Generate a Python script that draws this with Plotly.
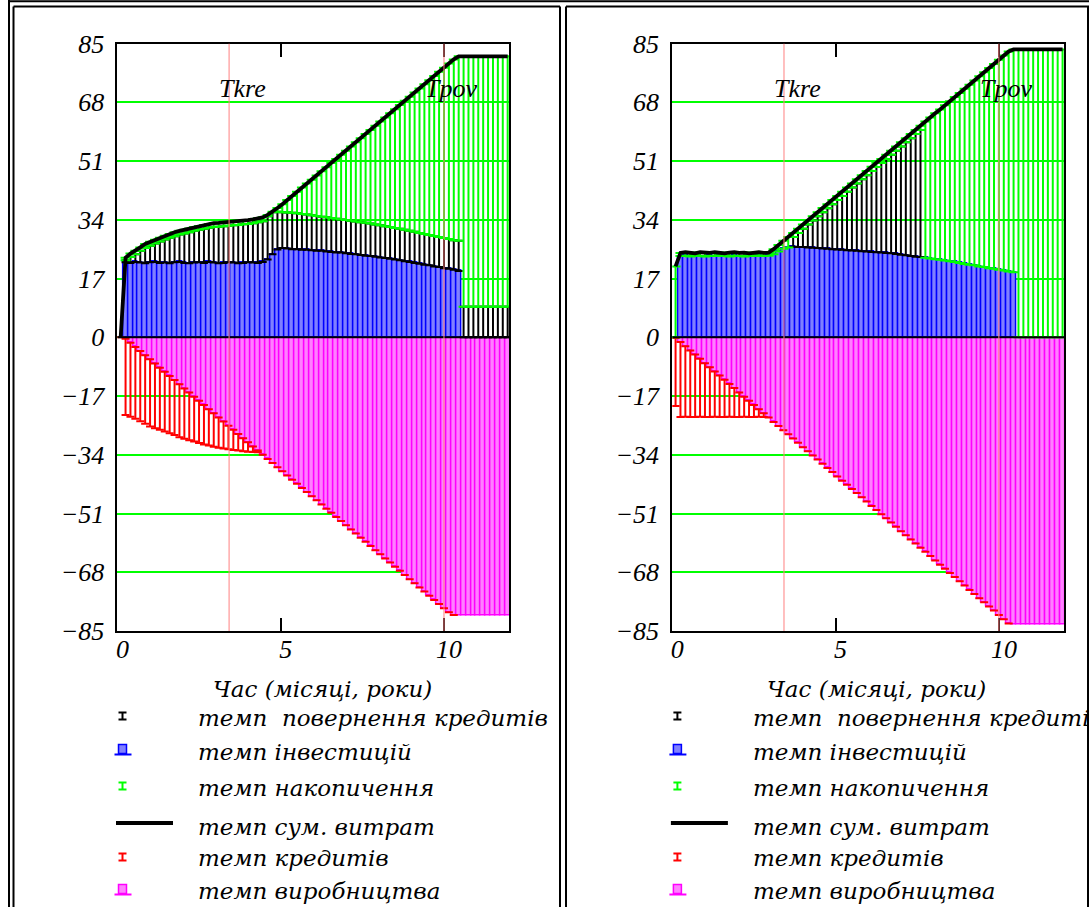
import plotly.graph_objects as go
from plotly.subplots import make_subplots

W, H = 1089, 907

# ---- time grid (years) ----
time = [0.10, 0.25, 0.40, 0.55, 0.70, 0.85, 1.00, 1.15, 1.30, 1.45,
        1.60, 1.75, 1.90, 2.05, 2.20, 2.35, 2.50, 2.65, 2.80, 2.95,
        3.10, 3.25, 3.40, 3.55, 3.70, 3.85, 4.00, 4.15, 4.30, 4.45,
        4.60, 4.75, 4.90, 5.05, 5.20, 5.35, 5.50, 5.65, 5.80, 5.95,
        6.10, 6.25, 6.40, 6.55, 6.70, 6.85, 7.00, 7.15, 7.30, 7.45,
        7.60, 7.75, 7.90, 8.05, 8.20, 8.35, 8.50, 8.65, 8.80, 8.95,
        9.10, 9.25, 9.40, 9.55, 9.70, 9.85, 10.00, 10.15, 10.30, 10.45,
        10.60, 10.75, 10.90, 11.05, 11.20, 11.35, 11.50, 11.65, 11.80, 11.95]

T_KRE = 3.42   # end of crediting
T_POV = 10.0   # end of repayment

y_ticks = [-85, -68, -51, -34, -17, 0, 17, 34, 51, 68, 85]
x_ticks = [0, 5, 10]

# ---- left variant ----
prod_left = [0.0, -0.4, -1.6, -2.8, -4.0, -5.2, -6.4, -7.6, -8.8, -10.0,
             -11.2, -12.4, -13.6, -14.8, -16.0, -17.2, -18.4, -19.6, -20.8, -22.0,
             -23.2, -24.4, -25.6, -26.8, -28.0, -29.2, -30.4, -31.6, -32.8, -34.0,
             -35.2, -36.4, -37.6, -38.8, -40.0, -41.2, -42.4, -43.6, -44.8, -46.0,
             -47.2, -48.4, -49.6, -50.8, -52.0, -53.2, -54.4, -55.6, -56.8, -58.0,
             -59.2, -60.4, -61.6, -62.8, -64.0, -65.2, -66.4, -67.6, -68.8, -70.0,
             -71.2, -72.4, -73.6, -74.8, -76.0, -77.2, -78.4, -79.6, -80.4, -80.4,
             -80.4, -80.4, -80.4, -80.4, -80.4, -80.4, -80.4, -80.4, -80.4, -80.4]
credit_floor_left = [0.0, -22.5, -23.0, -23.6, -24.3, -25.0, -25.8, -26.3, -26.8, -27.3,
                     -27.8, -28.3, -28.9, -29.4, -29.8, -30.2, -30.6, -31.0, -31.3, -31.7,
                     -32.0, -32.2, -32.4, -32.6, -32.8, -33.0, -33.1, -33.2, -33.3]
n_red_left = 69
invest_left = [0.0, 21.7, 21.5, 21.8, 21.6, 21.4, 21.7, 21.8, 21.5, 21.6,
               21.4, 21.7, 21.8, 21.5, 21.4, 21.6, 21.7, 21.5, 21.8, 21.6,
               21.4, 21.5, 21.7, 21.6, 21.4, 21.5, 21.7, 21.6, 21.5, 21.8,
               22.5, 24.0, 25.4, 25.8, 25.7, 25.5, 25.5, 25.3, 25.3, 25.2,
               25.0, 25.0, 24.8, 24.7, 24.5, 24.5, 24.3, 24.1, 24.0, 23.8,
               23.6, 23.5, 23.3, 23.1, 22.9, 22.7, 22.5, 22.3, 22.0, 21.8,
               21.5, 21.3, 21.0, 20.8, 20.5, 20.3, 20.0, 19.8, 19.5, 19.2,
               0.0, 0.0, 0.0, 0.0, 0.0, 0.0, 0.0, 0.0, 0.0, 0.0]
accum_floor_left = [0.0, 22.3, 23.2, 24.0, 25.0, 25.8, 26.5, 27.1, 27.7, 28.3,
                    28.8, 29.2, 29.7, 30.0, 30.4, 30.8, 31.1, 31.4, 31.7, 31.9,
                    32.0, 32.1, 32.3, 32.4, 32.5, 32.7, 32.8, 33.0, 33.3, 33.6,
                    35.0, 36.2, 36.3, 36.2, 36.1, 36.0, 35.9, 35.7, 35.5, 35.3,
                    35.1, 34.9, 34.7, 34.5, 34.3, 34.1, 33.9, 33.7, 33.5, 33.3,
                    33.1, 32.9, 32.6, 32.4, 32.1, 31.9, 31.6, 31.4, 31.1, 30.8,
                    30.5, 30.2, 29.9, 29.6, 29.3, 29.0, 28.7, 28.4, 28.1, 27.9,
                    8.8, 8.8, 8.8, 8.8, 8.8, 8.8, 8.8, 8.8, 8.8, 8.8]
total_left = [0.0, 23.0, 24.2, 25.0, 26.0, 27.0, 27.6, 28.2, 28.8, 29.4,
              29.9, 30.4, 30.8, 31.1, 31.5, 31.9, 32.2, 32.5, 32.8, 33.0,
              33.1, 33.2, 33.4, 33.5, 33.6, 33.8, 33.9, 34.1, 34.4, 34.7,
              35.4, 36.3, 37.4, 38.5, 39.7, 40.9, 42.1, 43.3, 44.5, 45.6,
              46.8, 48.0, 49.2, 50.4, 51.6, 52.8, 54.0, 55.2, 56.4, 57.6,
              58.8, 60.0, 61.2, 62.4, 63.6, 64.8, 66.0, 67.2, 68.4, 69.6,
              70.8, 72.0, 73.2, 74.4, 75.6, 76.8, 78.0, 79.2, 80.4, 81.3,
              81.3, 81.3, 81.3, 81.3, 81.3, 81.3, 81.3, 81.3, 81.3, 81.3]

# ---- right variant ----
prod_right = [-0.2, -1.4, -2.6, -3.8, -5.0, -6.2, -7.5, -8.7, -9.9, -11.1,
              -12.3, -13.5, -14.7, -16.0, -17.2, -18.4, -19.6, -20.8, -22.0, -23.2,
              -24.5, -25.7, -26.9, -28.1, -29.3, -30.5, -31.8, -33.0, -34.2, -35.4,
              -36.6, -37.8, -39.0, -40.3, -41.5, -42.7, -43.9, -45.1, -46.3, -47.5,
              -48.8, -50.0, -51.2, -52.4, -53.6, -54.8, -56.1, -57.3, -58.5, -59.7,
              -60.9, -62.1, -63.3, -64.6, -65.8, -67.0, -68.2, -69.4, -70.6, -71.8,
              -73.1, -74.3, -75.5, -76.7, -77.9, -79.1, -80.4, -81.6, -82.8, -83.0,
              -83.0, -83.0, -83.0, -83.0, -83.0, -83.0, -83.0, -83.0, -83.0, -83.0]
credit_floor_right = [-19.9, -23.1, -23.0, -23.1, -23.1, -23.0, -23.1, -23.1, -23.0, -23.1,
                      -23.1, -23.0, -23.1, -23.1, -23.0, -23.1, -23.1, -23.0, -23.1, -23.2]
n_red_right = 69
invest_right = [0.0, 23.5, 23.6, 23.4, 23.7, 23.5, 23.4, 23.6, 23.5, 23.7,
                23.5, 23.4, 23.6, 23.5, 23.4, 23.6, 23.5, 23.7, 23.5, 23.6,
                24.0, 24.8, 25.6, 26.0, 26.2, 26.1, 26.1, 26.0, 25.9, 25.8,
                25.7, 25.6, 25.5, 25.4, 25.3, 25.2, 25.1, 25.0, 24.9, 24.8,
                24.7, 24.6, 24.5, 24.4, 24.3, 24.1, 23.9, 23.7, 23.5, 23.3,
                23.2, 23.0, 22.8, 22.6, 22.4, 22.2, 22.0, 21.8, 21.5, 21.2,
                21.0, 20.8, 20.5, 20.3, 20.0, 19.8, 19.5, 19.3, 19.0, 18.8,
                0.0, 0.0, 0.0, 0.0, 0.0, 0.0, 0.0, 0.0, 0.0, 0.0]
accum_floor_right = [0.0, 23.5, 23.6, 23.4, 23.7, 23.5, 23.4, 23.6, 23.5, 23.7,
                     23.5, 23.4, 23.6, 23.5, 23.4, 23.6, 23.5, 23.7, 23.5, 23.6,
                     24.0, 24.8, 25.6, 26.0, 29.0, 30.2, 31.4, 32.6, 33.8, 35.0,
                     36.2, 37.3, 38.5, 39.7, 40.9, 42.1, 43.3, 44.5, 45.7, 46.9,
                     48.1, 49.3, 50.4, 51.6, 52.8, 54.0, 55.2, 56.4, 57.6, 58.8,
                     60.0, 23.0, 22.8, 22.6, 22.4, 22.2, 22.0, 21.8, 21.5, 21.2,
                     21.0, 20.8, 20.5, 20.3, 20.0, 19.8, 19.5, 19.3, 19.0, 18.8,
                     0.0, 0.0, 0.0, 0.0, 0.0, 0.0, 0.0, 0.0, 0.0, 0.0]
total_right = [20.5, 24.4, 24.6, 24.5, 24.3, 24.6, 24.5, 24.4, 24.6, 24.5,
               24.3, 24.5, 24.6, 24.4, 24.5, 24.3, 24.5, 24.6, 24.4, 24.5,
               25.5, 26.7, 27.9, 29.0, 30.2, 31.4, 32.6, 33.8, 35.0, 36.2,
               37.4, 38.5, 39.7, 40.9, 42.1, 43.3, 44.5, 45.7, 46.9, 48.1,
               49.3, 50.5, 51.6, 52.8, 54.0, 55.2, 56.4, 57.6, 58.8, 60.0,
               61.2, 62.4, 63.6, 64.8, 65.9, 67.1, 68.3, 69.5, 70.7, 71.9,
               73.1, 74.3, 75.5, 76.7, 77.9, 79.1, 80.3, 81.5, 82.7, 83.3,
               83.3, 83.3, 83.3, 83.3, 83.3, 83.3, 83.3, 83.3, 83.3, 83.3]

legend_labels = ["темп\u00a0 повернення кредитів", "темп інвестицій", "темп накопичення",
                 "темп сум. витрат", "темп кредитів", "темп виробництва"]
axis_title = "Час (місяці, роки)"

# ---- styling ----
FONT = "Liberation Serif"
CYR_FONT = "DejaVu Serif"
MAGENTA, PINK = "#ff00ff", "#ff80ff"
BLUE, LIGHT_BLUE = "#0000ff", "#8080ff"
GREEN, RED, BLACK = "#00ff00", "#ff0000", "#000000"
BAR_W = 0.15


def px(x):
    return x / W


def py(y):
    return 1 - y / H


fig = make_subplots(rows=1, cols=2)


def err_trace(xs, ys, plus, minus, color, cap):
    return go.Scatter(
        x=xs, y=ys, mode="markers",
        marker=dict(size=1, color="rgba(0,0,0,0)"),
        error_y=dict(type="data", symmetric=False, array=plus, arrayminus=minus,
                     color=color, thickness=2, width=cap),
        hoverinfo="skip", showlegend=False)


def add_panel(col, prod, credit_floor, n_red, invest, accum_floor, total):
    # production (negative bars)
    fig.add_trace(go.Bar(x=time, y=prod, width=BAR_W,
                         marker=dict(color=PINK, line=dict(color=MAGENTA, width=1.5)),
                         showlegend=False), row=1, col=col)
    # investments
    fig.add_trace(go.Bar(x=time, y=invest, width=BAR_W,
                         marker=dict(color=LIGHT_BLUE, line=dict(color=BLUE, width=1.5)),
                         showlegend=False), row=1, col=col)
    # credits: from the production edge down to the credit floor
    floor = credit_floor + prod[len(credit_floor):n_red]
    red_y = prod[:n_red]
    red_minus = [round(p - f, 3) for p, f in zip(red_y, floor)]
    fig.add_trace(err_trace(time[:n_red], red_y, [0] * n_red, red_minus, RED, 4),
                  row=1, col=col)
    # credit repayment: investment top up to the accumulation floor
    rx, ry, rp = [], [], []
    for t, i, a in zip(time, invest, accum_floor):
        if a - i > 0.05:
            rx.append(t); ry.append(i); rp.append(round(a - i, 3))
    fig.add_trace(err_trace(rx, ry, rp, [0] * len(rx), BLACK, 4), row=1, col=col)
    # accumulation: floor up to total expenditure
    gx, gy, gp = [], [], []
    for t, a, s in zip(time, accum_floor, total):
        if s - a > 0.05:
            gx.append(t); gy.append(a); gp.append(round(s - a, 3))
    fig.add_trace(err_trace(gx, gy, gp, [0] * len(gx), GREEN, 5), row=1, col=col)
    # total expenditure
    fig.add_trace(go.Scatter(x=time, y=total, mode="lines",
                             line=dict(color=BLACK, width=3.8), showlegend=False,
                             hoverinfo="skip"), row=1, col=col)


add_panel(1, prod_left, credit_floor_left, n_red_left, invest_left, accum_floor_left, total_left)
add_panel(2, prod_right, credit_floor_right, n_red_right, invest_right, accum_floor_right, total_right)

tick_font = dict(family=FONT, size=26, color=BLACK, style="italic")
y_dom = [py(631), py(43.5)]
x_doms = [[px(117.4), px(509.3)], [px(672.3), px(1064.2)]]

for k, dom in enumerate(x_doms, start=1):
    sfx = "" if k == 1 else str(k)
    fig.layout["xaxis" + sfx].update(
        domain=dom, range=[0, 12], tickvals=x_ticks, ticks="inside", ticklen=13,
        tickwidth=2, tickcolor=BLACK, showline=True, linecolor=BLACK, linewidth=2,
        mirror="ticks", showgrid=False, zeroline=False, tickfont=tick_font,
        ticklabelshift=5, ticklabelstandoff=-6, automargin=False)
    fig.layout["yaxis" + sfx].update(
        domain=y_dom, range=[-85, 85], tickvals=y_ticks, ticks="", showline=True,
        linecolor=BLACK, linewidth=2, mirror=True, showgrid=True, gridcolor=GREEN,
        gridwidth=2, zeroline=False, tickfont=tick_font, ticklabelstandoff=6,
        automargin=False)

shapes = []
annotations = []
mark_font = dict(family=FONT, size=26, color=BLACK, style="italic")
legend_font = dict(family=CYR_FONT, size=23, color=BLACK, style="italic")
title_font = dict(family=CYR_FONT, size=23, color=BLACK, style="italic")

for k, dx in enumerate([0.0, 554.9], start=1):
    xr = "x" if k == 1 else "x2"
    yr = "y" if k == 1 else "y2"
    # zero line and the two time markers
    shapes.append(dict(type="line", xref=xr, yref=yr, x0=0, x1=12, y0=0, y1=0,
                       line=dict(color=BLACK, width=2), layer="above"))
    for tm in (T_KRE, T_POV):
        shapes.append(dict(type="line", xref=xr, yref=yr, x0=tm, x1=tm, y0=-85, y1=85,
                           line=dict(color="#ff8080", width=1), layer="above"))
    annotations.append(dict(xref=xr, yref=yr, x=T_KRE + 0.42, y=72, text="Tkre",
                            xanchor="center", yanchor="middle",
                            showarrow=False, font=mark_font))
    annotations.append(dict(xref=xr, yref=yr, x=T_POV + 0.23, y=72, text="Tpov",
                            xanchor="center", yanchor="middle",
                            showarrow=False, font=mark_font))
    # axis title
    annotations.append(dict(xref="paper", yref="paper", x=px(322 + dx), y=py(689),
                            xanchor="center", yanchor="middle",
                            text=axis_title, showarrow=False, font=title_font))
    # legend
    rows_y = [718, 752, 788, 827, 858, 891]
    kinds = [("ibar", BLACK), ("bar", BLUE), ("ibar", GREEN), ("line", BLACK),
             ("ibar", RED), ("bar", MAGENTA)]
    sym_y = [716, 749, 786, 823, 857, 889]
    for lab, ty, (kind, col), sy in zip(legend_labels, rows_y, kinds, sym_y):
        annotations.append(dict(xref="paper", yref="paper", x=px(196 + dx), y=py(ty),
                                xanchor="left", yanchor="middle", text=lab,
                                showarrow=False, font=legend_font))
        cx = 122.5 + dx
        if kind == "ibar":
            for yy in (sy - 3.5, sy + 3.5):
                shapes.append(dict(type="line", xref="paper", yref="paper",
                                   x0=px(cx - 4), x1=px(cx + 4), y0=py(yy), y1=py(yy),
                                   line=dict(color=col, width=2)))
            shapes.append(dict(type="line", xref="paper", yref="paper",
                               x0=px(cx), x1=px(cx), y0=py(sy - 3.5), y1=py(sy + 3.5),
                               line=dict(color=col, width=2)))
        elif kind == "bar":
            fill = LIGHT_BLUE if col == BLUE else PINK
            shapes.append(dict(type="rect", xref="paper", yref="paper",
                               x0=px(cx - 4), x1=px(cx + 4), y0=py(sy + 4.5), y1=py(sy - 4.5),
                               fillcolor=fill, line=dict(color=col, width=1.5)))
            shapes.append(dict(type="line", xref="paper", yref="paper",
                               x0=px(cx - 8), x1=px(cx + 9), y0=py(sy + 5.5), y1=py(sy + 5.5),
                               line=dict(color=col, width=2)))
        else:
            shapes.append(dict(type="line", xref="paper", yref="paper",
                               x0=px(116 + dx), x1=px(173 + dx), y0=py(sy), y1=py(sy),
                               line=dict(color=col, width=4)))

# double frame lines
frame = [
    (9, 0, 9, 907), (13.5, 6.5, 13.5, 907), (560, 6.5, 560, 907), (566, 6.5, 566, 907),
    (1088, 6.5, 1088, 907), (9, 1.3, 1089, 1.3), (13.5, 6.5, 560, 6.5), (566, 6.5, 1089, 6.5),
]
for x0, y0, x1, y1 in frame:
    shapes.append(dict(type="line", xref="paper", yref="paper", x0=px(x0), x1=px(x1),
                       y0=py(y0), y1=py(y1), line=dict(color=BLACK, width=2)))

fig.update_layout(
    width=W, height=H, margin=dict(l=0, r=0, t=0, b=0, autoexpand=False),
    paper_bgcolor="white", plot_bgcolor="white",
    barmode="overlay", bargap=0, showlegend=False,
    shapes=shapes, annotations=annotations, hovermode=False,
)

fig.write_html("out.html")
